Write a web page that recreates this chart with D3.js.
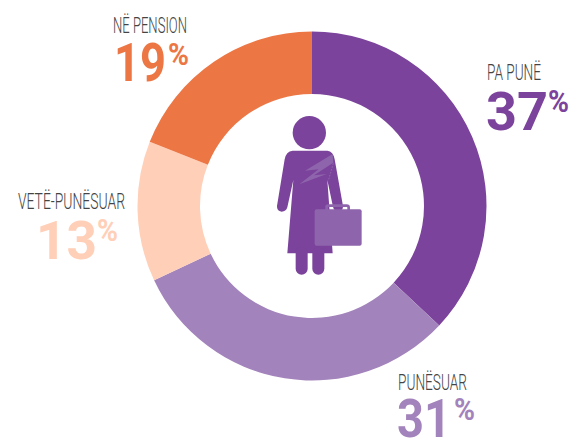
<!DOCTYPE html>
<html><head><meta charset="utf-8">
<script src="https://cdn.jsdelivr.net/npm/d3@7"></script>
<style>html,body{margin:0;padding:0;background:#fff;overflow:hidden}svg{display:block}</style>
</head><body><div id="c"></div>
<script>
const categories = ["PA PUNË","PUNËSUAR","VETË-PUNËSUAR","NË PENSION"];
const values = [37,31,13,19];
const colors = ["#7B439B","#A383BB","#FFCFB8","#EC7745"];
const labelX = [487,398,18,113];
const labelBaseline = [80,390,209,33];
const labelWidth = [54,69,107,74];
const numberX = [486,397,36,114];
const numberBaseline = [130,437,259,81];
const numberWidth = [62,54,61,52];
const percentX = [548,454,97,168];
const percentBaseline = [112,420,241,65];

const W=572,H=438,cx=312,cy=206,R=174.5,r=112;
const svg=d3.select("#c").append("svg").attr("width",W).attr("height",H);
const pie=d3.pie().sort(null).value(d=>d);
const arc=d3.arc().innerRadius(r).outerRadius(R);
svg.append("g").attr("transform",`translate(${cx},${cy})`)
  .selectAll("path").data(pie(values)).join("path")
  .attr("d",arc).attr("fill",(d,i)=>colors[i]);

const t=svg.append("g");
t.selectAll("text.l").data(categories).join("text").attr("class","l")
  .attr("x",(d,i)=>labelX[i]).attr("y",(d,i)=>labelBaseline[i])
  .attr("font-family","Roboto").attr("font-size",21.5).attr("font-weight",300)
  .attr("fill","#444").attr("textLength",(d,i)=>labelWidth[i])
  .attr("lengthAdjust","spacingAndGlyphs").text(d=>d);
t.selectAll("text.n").data(values).join("text").attr("class","n")
  .attr("x",(d,i)=>numberX[i]).attr("y",(d,i)=>numberBaseline[i])
  .attr("font-family","Roboto").attr("font-size",54).attr("font-weight",700)
  .attr("fill",(d,i)=>colors[i]).attr("textLength",(d,i)=>numberWidth[i])
  .attr("lengthAdjust","spacingAndGlyphs").text(d=>d);
t.selectAll("text.p").data(values).join("text").attr("class","p")
  .attr("x",(d,i)=>percentX[i]).attr("y",(d,i)=>percentBaseline[i])
  .attr("font-family","Roboto").attr("font-size",31).attr("font-weight",700)
  .attr("fill",(d,i)=>colors[i]).attr("textLength",21)
  .attr("lengthAdjust","spacingAndGlyphs").text("%");

const ic=svg.append("g").attr("transform","translate(250,100) scale(0.3333)");
const dark="#7B439B";
ic.append("circle").attr("cx",178).attr("cy",98).attr("r",50).attr("fill",dark);
ic.append("path").attr("fill",dark).attr("d","M128 152 L232 152 Q250 154 254 178 L279 318 Q280 332 265 334 Q252 334 249 320 L232 240 L248 460 L112 460 L130 240 L112 322 Q108 335 95 335 Q80 333 81 318 L104 178 Q108 154 128 152 Z");
ic.append("rect").attr("x",137).attr("y",440).attr("width",36).attr("height",84).attr("rx",18).attr("fill",dark);
ic.append("rect").attr("x",187).attr("y",440).attr("width",36).attr("height",84).attr("rx",18).attr("fill",dark);
ic.append("path").attr("fill","#8E65AC").attr("d","M248 162 L165 212 L206 208 L148 253 L230 222 L192 226 L250 188 Z");
ic.append("path").attr("fill","none").attr("stroke","#8E65AC").attr("stroke-width",3).attr("stroke-dasharray","5 4").attr("d","M250 190 L235 242");
ic.append("path").attr("fill","none").attr("stroke","#8E65AC").attr("stroke-width",8).attr("d","M230 332 L230 320 Q230 317 236 317 L290 317 Q296 317 296 322 L296 332");
ic.append("rect").attr("x",194).attr("y",328).attr("width",141).attr("height",109).attr("rx",6).attr("fill","#8E65AC");
</script></body></html>
